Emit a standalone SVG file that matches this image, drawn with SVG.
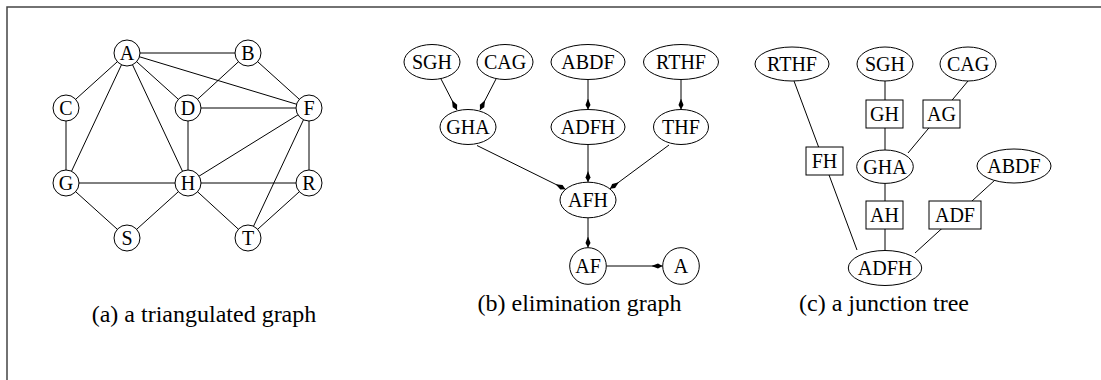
<svg xmlns="http://www.w3.org/2000/svg" width="1101" height="380" viewBox="0 0 1101 380" font-family="Liberation Serif, Times New Roman, serif">
<style>
.e{stroke:#000;stroke-width:1;fill:none}
.n{fill:#fff;stroke:#000;stroke-width:1}
.t{font-family:'Liberation Serif','Times New Roman',serif;font-size:20px;text-anchor:middle;fill:#000}
.c{font-family:'Liberation Serif','Times New Roman',serif;font-size:24px;text-anchor:middle;fill:#000}
.frame{stroke:#444;stroke-width:1.5;fill:none}
</style>
<defs>
<marker id="ah" markerUnits="userSpaceOnUse" markerWidth="14" markerHeight="8" refX="11" refY="3" orient="auto" viewBox="0 0 14 6">
<path d="M0,3 L6.5,0.5 L11,3 L6.5,5.5 Z" fill="#000"/>
</marker>
</defs>
<rect width="1101" height="380" fill="#fff"/>
<path class="frame" d="M7,380 L7,7 L1101,7"/>

<!-- Panel (a) -->
<g id="a-edges" class="e">
<line x1="127" y1="53" x2="248" y2="53"/>
<line x1="127" y1="53" x2="66" y2="108"/>
<line x1="127" y1="53" x2="66" y2="183"/>
<line x1="127" y1="53" x2="188" y2="183"/>
<line x1="127" y1="53" x2="188" y2="108"/>
<line x1="127" y1="53" x2="309" y2="108"/>
<line x1="248" y1="53" x2="188" y2="108"/>
<line x1="248" y1="53" x2="309" y2="108"/>
<line x1="66" y1="108" x2="66" y2="183"/>
<line x1="188" y1="108" x2="309" y2="108"/>
<line x1="188" y1="108" x2="188" y2="183"/>
<line x1="309" y1="108" x2="188" y2="183"/>
<line x1="309" y1="108" x2="309" y2="183"/>
<line x1="309" y1="108" x2="248" y2="238"/>
<line x1="66" y1="183" x2="188" y2="183"/>
<line x1="66" y1="183" x2="127" y2="238"/>
<line x1="127" y1="238" x2="188" y2="183"/>
<line x1="188" y1="183" x2="309" y2="183"/>
<line x1="188" y1="183" x2="248" y2="238"/>
<line x1="309" y1="183" x2="248" y2="238"/>
</g>
<g id="a-A"><circle class="n" cx="127" cy="53" r="13"/><text class="t" x="127" y="60">A</text></g>
<g id="a-B"><circle class="n" cx="248" cy="53" r="13"/><text class="t" x="248" y="60">B</text></g>
<g id="a-C"><circle class="n" cx="66" cy="108" r="13"/><text class="t" x="66" y="115">C</text></g>
<g id="a-D"><circle class="n" cx="188" cy="108" r="13"/><text class="t" x="188" y="115">D</text></g>
<g id="a-F"><circle class="n" cx="309" cy="108" r="13"/><text class="t" x="309" y="115">F</text></g>
<g id="a-G"><circle class="n" cx="66" cy="183" r="13"/><text class="t" x="66" y="190">G</text></g>
<g id="a-H"><circle class="n" cx="188" cy="183" r="13"/><text class="t" x="188" y="190">H</text></g>
<g id="a-R"><circle class="n" cx="309" cy="183" r="13"/><text class="t" x="309" y="190">R</text></g>
<g id="a-S"><circle class="n" cx="127" cy="238" r="13"/><text class="t" x="127" y="245">S</text></g>
<g id="a-T"><circle class="n" cx="248" cy="238" r="13"/><text class="t" x="248" y="245">T</text></g>
<text class="c" x="204" y="322">(a) a triangulated graph</text>

<!-- Panel (b) -->
<g id="b-edges" class="e" marker-end="url(#ah)">
<line x1="441" y1="79" x2="457" y2="110"/>
<line x1="496" y1="79" x2="480" y2="110"/>
<line x1="588" y1="79.5" x2="588" y2="109.5"/>
<line x1="681" y1="79.5" x2="681" y2="109.5"/>
<line x1="477" y1="145.5" x2="565.5" y2="189.2"/>
<line x1="588" y1="144.5" x2="588" y2="182"/>
<line x1="669" y1="145" x2="610" y2="188.7"/>
<line x1="588" y1="218" x2="588" y2="247.5"/>
<line x1="606.5" y1="266" x2="662.5" y2="266"/>
</g>
<g id="b-SGH"><ellipse class="n" cx="432" cy="62" rx="28" ry="17.5"/><text class="t" x="432" y="69">SGH</text></g>
<g id="b-CAG"><ellipse class="n" cx="505" cy="62" rx="28" ry="17.5"/><text class="t" x="505" y="69">CAG</text></g>
<g id="b-ABDF"><ellipse class="n" cx="588" cy="62" rx="37" ry="17.5"/><text class="t" x="588" y="69">ABDF</text></g>
<g id="b-RTHF"><ellipse class="n" cx="681" cy="62" rx="37.5" ry="17.5"/><text class="t" x="681" y="69">RTHF</text></g>
<g id="b-GHA"><ellipse class="n" cx="468" cy="127" rx="28" ry="17.5"/><text class="t" x="468" y="134">GHA</text></g>
<g id="b-ADFH"><ellipse class="n" cx="588" cy="127" rx="37" ry="17.5"/><text class="t" x="588" y="134">ADFH</text></g>
<g id="b-THF"><ellipse class="n" cx="681" cy="127" rx="27.5" ry="17.5"/><text class="t" x="681" y="134">THF</text></g>
<g id="b-AFH"><ellipse class="n" cx="588" cy="200" rx="28" ry="17.8"/><text class="t" x="588" y="207">AFH</text></g>
<g id="b-AF"><circle class="n" cx="588" cy="266" r="18.3"/><text class="t" x="588" y="273">AF</text></g>
<g id="b-A"><circle class="n" cx="681" cy="266" r="18.3"/><text class="t" x="681" y="273">A</text></g>
<text class="c" x="579.5" y="311">(b) elimination graph</text>

<!-- Panel (c) -->
<g id="c-edges" class="e">
<line x1="794" y1="81" x2="857" y2="250"/>
<line x1="885" y1="81" x2="885" y2="150"/>
<line x1="885" y1="183" x2="885" y2="250"/>
<line x1="968" y1="81" x2="908" y2="153"/>
<line x1="995" y1="180" x2="915" y2="253"/>
</g>
<g id="c-RTHF"><ellipse class="n" cx="792" cy="64" rx="37" ry="17"/><text class="t" x="792" y="71">RTHF</text></g>
<g id="c-SGH"><ellipse class="n" cx="885" cy="64" rx="28" ry="17"/><text class="t" x="885" y="71">SGH</text></g>
<g id="c-CAG"><ellipse class="n" cx="968" cy="64" rx="28" ry="17"/><text class="t" x="968" y="71">CAG</text></g>
<g id="c-GH"><rect class="n" x="866" y="100" width="37" height="28"/><text class="t" x="884.5" y="121">GH</text></g>
<g id="c-AG"><rect class="n" x="923" y="100" width="37" height="28"/><text class="t" x="941.5" y="121">AG</text></g>
<g id="c-FH"><rect class="n" x="806" y="147" width="37" height="28"/><text class="t" x="824.5" y="168">FH</text></g>
<g id="c-GHA"><ellipse class="n" cx="885" cy="166.7" rx="28.3" ry="16.7"/><text class="t" x="885" y="173.7">GHA</text></g>
<g id="c-ABDF"><ellipse class="n" cx="1014" cy="166" rx="37" ry="17"/><text class="t" x="1014" y="173">ABDF</text></g>
<g id="c-AH"><rect class="n" x="866" y="201" width="37" height="28"/><text class="t" x="884.5" y="222">AH</text></g>
<g id="c-ADF"><rect class="n" x="929" y="201" width="52" height="28"/><text class="t" x="955" y="222">ADF</text></g>
<g id="c-ADFH"><ellipse class="n" cx="885" cy="268" rx="36.7" ry="17.5"/><text class="t" x="885" y="275">ADFH</text></g>
<text class="c" x="884" y="311">(c) a junction tree</text>
</svg>
